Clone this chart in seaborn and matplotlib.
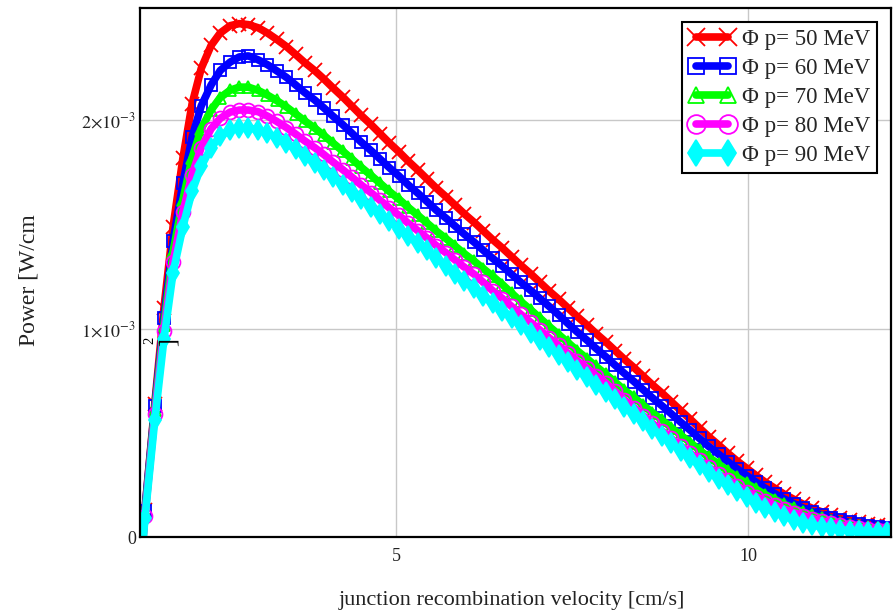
import numpy as np
import pandas as pd
import matplotlib
matplotlib.use("Agg")
import matplotlib.pyplot as plt
import seaborn as sns

# junction recombination velocity grid (axis units)
velocity = [1.30, 1.43, 1.57, 1.70, 1.83, 1.97, 2.10, 2.23, 2.37, 2.50,
            2.64, 2.77, 2.90, 3.04, 3.17, 3.30, 3.44, 3.57, 3.70, 3.84,
            3.97, 4.10, 4.24, 4.37, 4.50, 4.64, 4.77, 4.90, 5.04, 5.17,
            5.31, 5.44, 5.57, 5.71, 5.84, 5.97, 6.11, 6.24, 6.37, 6.51,
            6.64, 6.77, 6.91, 7.04, 7.17, 7.31, 7.44, 7.57, 7.71, 7.84,
            7.98, 8.11, 8.24, 8.38, 8.51, 8.64, 8.78, 8.91, 9.04, 9.18,
            9.31, 9.44, 9.58, 9.71, 9.84, 9.98, 10.11, 10.24, 10.38, 10.51,
            10.65, 10.78, 10.91, 11.05, 11.18, 11.31, 11.45, 11.58, 11.71, 11.85, 11.98]

# electric power, in units of 1e-3 W/cm^2
p_50 = [-0.42, 0.13, 0.64, 1.10, 1.49, 1.82, 2.08, 2.25, 2.36, 2.42, 2.455, 2.465, 2.46, 2.445, 2.42, 2.39, 2.355, 2.317, 2.278, 2.24,
        2.200, 2.157, 2.113, 2.069, 2.025, 1.981, 1.937, 1.893, 1.849, 1.805,
        1.761, 1.718, 1.675, 1.633, 1.592, 1.551, 1.510, 1.469, 1.428, 1.387,
        1.346, 1.305, 1.264, 1.223, 1.182, 1.141, 1.100, 1.059, 1.018, 0.977,
        0.936, 0.895, 0.854, 0.813, 0.772, 0.731, 0.690, 0.649, 0.608, 0.565,
        0.523, 0.482, 0.442, 0.403, 0.366, 0.330, 0.296, 0.264, 0.234, 0.206,
        0.181, 0.158, 0.138, 0.120, 0.104, 0.091, 0.080, 0.071, 0.063, 0.057, 0.052]
p_60 = [-0.42, 0.127, 0.627, 1.05, 1.42, 1.70, 1.92, 2.07, 2.17, 2.24, 2.28, 2.305, 2.31, 2.291, 2.268, 2.239, 2.207, 2.171, 2.134, 2.099,
        2.061, 2.021, 1.980, 1.939, 1.897, 1.856, 1.815, 1.774, 1.733, 1.691,
        1.650, 1.610, 1.569, 1.530, 1.492, 1.453, 1.415, 1.376, 1.338, 1.300,
        1.261, 1.223, 1.184, 1.146, 1.108, 1.066, 1.025, 0.985, 0.945, 0.905,
        0.865, 0.825, 0.786, 0.746, 0.707, 0.668, 0.629, 0.591, 0.552, 0.512,
        0.473, 0.435, 0.398, 0.362, 0.328, 0.295, 0.264, 0.235, 0.208, 0.183,
        0.160, 0.139, 0.121, 0.105, 0.091, 0.080, 0.070, 0.062, 0.055, 0.049, 0.045]
p_70 = [-0.43, 0.11, 0.61, 1.02, 1.37, 1.62, 1.82, 1.96, 2.05, 2.11, 2.145, 2.16, 2.16, 2.144, 2.122, 2.096, 2.065, 2.032, 1.998, 1.964,
        1.929, 1.892, 1.853, 1.815, 1.776, 1.737, 1.699, 1.660, 1.622, 1.583,
        1.544, 1.507, 1.469, 1.432, 1.396, 1.360, 1.324, 1.288, 1.252, 1.212,
        1.171, 1.131, 1.091, 1.052, 1.012, 0.972, 0.934, 0.895, 0.857, 0.819,
        0.781, 0.744, 0.706, 0.670, 0.633, 0.597, 0.561, 0.525, 0.490, 0.453,
        0.417, 0.383, 0.350, 0.318, 0.287, 0.257, 0.230, 0.204, 0.180, 0.157,
        0.138, 0.119, 0.104, 0.090, 0.077, 0.067, 0.059, 0.052, 0.046, 0.041, 0.037]
p_80 = [-0.44, 0.10, 0.59, 0.99, 1.32, 1.56, 1.74, 1.87, 1.96, 2.01, 2.04, 2.05, 2.05, 2.042, 2.021, 1.996, 1.966, 1.935, 1.902, 1.870,
        1.837, 1.801, 1.764, 1.728, 1.691, 1.654, 1.617, 1.581, 1.544, 1.507,
        1.470, 1.435, 1.399, 1.364, 1.329, 1.295, 1.261, 1.222, 1.183, 1.145,
        1.107, 1.069, 1.031, 0.994, 0.957, 0.920, 0.883, 0.847, 0.811, 0.775,
        0.739, 0.699, 0.660, 0.621, 0.583, 0.546, 0.509, 0.473, 0.438, 0.402,
        0.368, 0.335, 0.303, 0.273, 0.245, 0.218, 0.194, 0.173, 0.153, 0.134,
        0.117, 0.102, 0.088, 0.077, 0.066, 0.058, 0.050, 0.045, 0.039, 0.035, 0.032]
p_90 = [-0.46, 0.09, 0.56, 0.95, 1.27, 1.49, 1.66, 1.78, 1.87, 1.925, 1.955, 1.965, 1.965, 1.955, 1.94, 1.918, 1.892, 1.862, 1.830, 1.797,
        1.763, 1.727, 1.692, 1.657, 1.621, 1.586, 1.551, 1.516, 1.481, 1.446,
        1.411, 1.376, 1.341, 1.300, 1.265, 1.229, 1.194, 1.158, 1.123, 1.087,
        1.052, 1.016, 0.981, 0.945, 0.910, 0.874, 0.839, 0.803, 0.768, 0.732,
        0.697, 0.661, 0.626, 0.590, 0.555, 0.519, 0.484, 0.449, 0.414, 0.379,
        0.345, 0.312, 0.280, 0.249, 0.219, 0.191, 0.165, 0.141, 0.119, 0.100,
        0.083, 0.069, 0.057, 0.048, 0.041, 0.035, 0.031, 0.028, 0.026, 0.024, 0.023]

labels = ["Φ p= 50 MeV", "Φ p= 60 MeV", "Φ p= 70 MeV", "Φ p= 80 MeV", "Φ p= 90 MeV"]
series = [p_50, p_60, p_70, p_80, p_90]
colors = ["#ff0000", "#0000ff", "#00ff00", "#ff00ff", "#00ffff"]
markers = ["x", "s", "^", "o", "d"]
marker_sizes = [10, 9, 9, 10, 10]
marker_faces = ["#ff0000", "none", "none", "none", "#00ffff"]

ytick_vals = [0.0, 1e-3, 2e-3]
ytick_text = ["0", r"$1{\times}10^{-3}$", r"$2{\times}10^{-3}$"]
xtick_vals = [5, 10]

sns.set_style("white")
plt.rcParams["font.family"] = ["Liberation Serif", "DejaVu Serif"]
plt.rcParams["mathtext.fontset"] = "stix"

W, H = 893, 616
fig = plt.figure(figsize=(W / 100, H / 100), dpi=100)
ax = fig.add_axes([140 / W, 1 - 537 / H, (891 - 140) / W, (537 - 8) / H])

for vals, lab, col, mk, ms, mf in zip(series, labels, colors, markers, marker_sizes, marker_faces):
    df = pd.DataFrame({"v": velocity, "p": np.asarray(vals) * 1e-3})
    sns.lineplot(data=df, x="v", y="p", ax=ax, color=col, lw=5.5, marker=mk,
                 ms=ms, mfc=mf, mec=col, mew=1.3, label=lab, sort=False,
                 estimator=None)

ax.set_xlim(1.36, 12.03)
ax.set_ylim(0, 2.54e-3)
ax.set_xticks(xtick_vals)
ax.set_xticklabels([str(t) for t in xtick_vals])
ax.set_yticks(ytick_vals)
ax.set_yticklabels(ytick_text)
ax.tick_params(axis="both", length=0, labelsize=13, colors="#222222")
ax.tick_params(axis="x", pad=8)
ax.tick_params(axis="y", pad=3)
ax.grid(True, color="#c8c8c8", lw=1.0)
ax.set_axisbelow(True)
for sp in ax.spines.values():
    sp.set_color("black")
    sp.set_linewidth(1.6)
ax.set_xlabel("")
ax.set_ylabel("")

leg = ax.legend(loc="upper right", bbox_to_anchor=(877 / W, 1 - 22 / H),
                bbox_transform=fig.transFigure, borderaxespad=0.0,
                fontsize=16.5, frameon=True, fancybox=False, numpoints=2,
                markerscale=1.35, handlelength=2.0, handletextpad=0.3,
                labelspacing=0.35, borderpad=0.3)
leg.get_frame().set_edgecolor("black")
leg.get_frame().set_linewidth(1.5)
leg.get_frame().set_alpha(1)

fig.text(29 / W, 1 - 280 / H, "Power [W/cm", rotation=90, ha="center",
         va="center", fontsize=17, color="#222222")
fig.text(150 / W, 1 - 340 / H, "2", rotation=90, ha="center", va="center",
         fontsize=10.5, color="black")
fig.text(169 / W, 1 - 342 / H, "]", rotation=90, ha="center", va="center",
         fontsize=17, color="black")
fig.text(512 / W, 1 - 600 / H, "junction recombination velocity [cm/s]",
         ha="center", va="center", fontsize=16, color="#222222")

fig.savefig("out.png", dpi=100)
